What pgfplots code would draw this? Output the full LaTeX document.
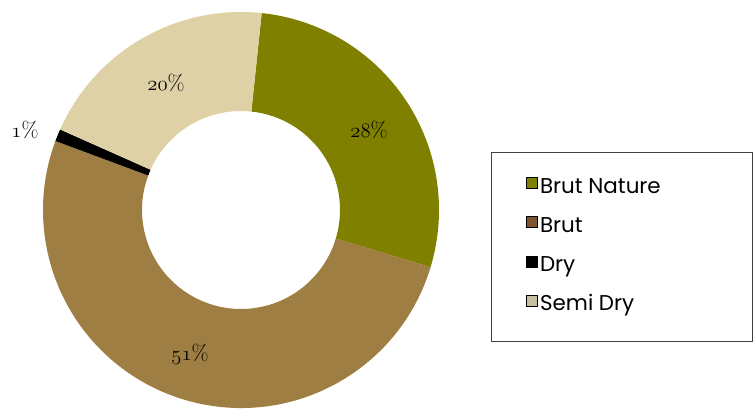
\documentclass[border=0pt]{standalone}
\usepackage{pgfplots}
\pgfplotsset{compat=1.18}
\usepackage{fontspec}
\newfontfamily\legfont{Poppins}
\definecolor{cbn}{RGB}{128,128,0}
\definecolor{cbr}{RGB}{158,126,67}
\definecolor{cdry}{RGB}{0,0,0}
\definecolor{csd}{RGB}{222,209,166}
\definecolor{lbr}{RGB}{125,85,50}
\definecolor{lsd}{RGB}{200,190,160}
\newcommand\osn[1]{{\fontencoding{OML}\fontfamily{cmm}\fontseries{m}\fontshape{it}\selectfont #1}}
\begin{document}
\begin{tikzpicture}
\begin{axis}[
  scale only axis, width=755bp, height=410bp,
  xmin=0, xmax=755, ymin=0, ymax=410,
  hide axis, clip=false,
  legend cell align=left,
  legend style={at={(axis cs:526,233)}, anchor=north west, draw=none, fill=none,
    inner sep=0pt,
    font=\legfont\fontsize{21.5}{24}\selectfont, row sep=18bp,
    nodes={inner ysep=0pt, inner xsep=2.5bp, text height=16bp, text depth=5bp}},
  legend image code/.code={\fill[#1] (0bp,-0.5bp) rectangle (11bp,10.5bp);},
]
\def\cur{84}
\pgfplotsforeachungrouped \p/\c in {28/cbn,51/cbr,1/cdry,20/csd}{
  \pgfmathsetmacro\nxt{\cur-3.6*\p}
  \edef\temp{\noexpand\fill[\c] ([shift={(\cur:198bp)}]axis cs:241,200) arc[start angle=\cur, end angle=\nxt, radius=198bp] -- ([shift={(\nxt:99bp)}]axis cs:241,200) arc[start angle=\nxt, end angle=\cur, radius=99bp] -- cycle;}
  \temp
  \global\let\cur\nxt
}
\node[font=\fontsize{22}{26}\selectfont] at (axis cs:369,280) {\osn{28}\%};
\node[font=\fontsize{22}{26}\selectfont] at (axis cs:166,327) {\osn{20}\%};
\node[font=\fontsize{22}{26}\selectfont] at (axis cs:25,280) {\osn{1}\%};
\node[font=\fontsize{22}{26}\selectfont] at (axis cs:190,56) {\osn{51}\%};
\draw[black!75, line width=0.8pt] (axis cs:491,258) rectangle (axis cs:752,69);
\addlegendimage{fill=cbn}
\addlegendentry{Brut Nature}
\addlegendimage{fill=lbr}
\addlegendentry{Brut}
\addlegendimage{fill=cdry}
\addlegendentry{Dry}
\addlegendimage{fill=lsd}
\addlegendentry{Semi Dry}
\end{axis}
\pgfresetboundingbox
\path[use as bounding box] (current axis.south west) rectangle (current axis.north east);
\end{tikzpicture}
\end{document}
